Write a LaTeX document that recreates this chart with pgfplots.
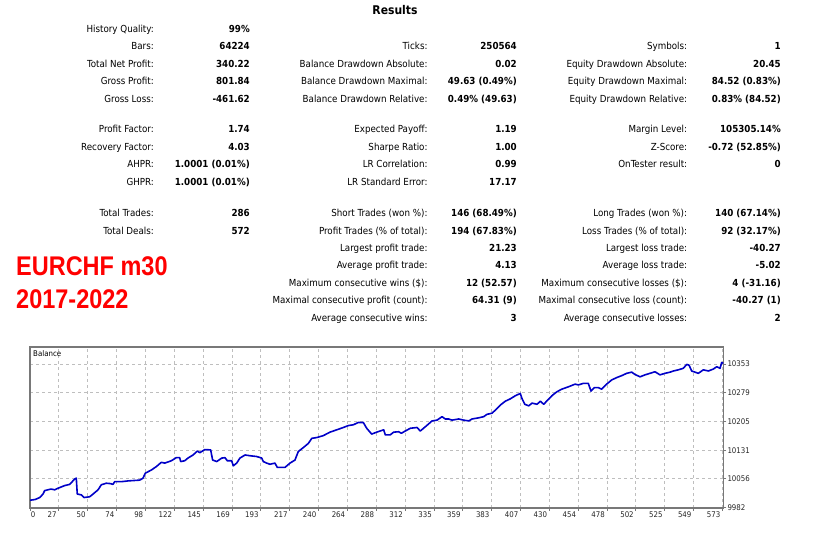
\documentclass[border=0pt]{standalone}
\usepackage{fontspec}
\setmainfont{DejaVu Sans Condensed}
\newfontfamily\redfont[FakeStretch=0.87]{Liberation Sans}
\usepackage{pgfplots}
\pgfplotsset{compat=1.18}
\definecolor{bal}{RGB}{0,0,200}
\definecolor{gridc}{RGB}{190,190,190}
\definecolor{framec}{RGB}{120,120,120}
\newcommand\lbl[3]{\node[anchor=base east,inner sep=0pt,font=\fontsize{9.7}{11}\selectfont] at (#1pt,538pt-#2pt) {#3};}
\newcommand\val[3]{\node[anchor=base east,inner sep=0pt,font=\bfseries\fontsize{9.7}{11}\selectfont] at (#1pt,538pt-#2pt) {#3};}
\newcommand\row[3]{\lbl{154}{#1}{#2}\val{250}{#1}{#3}}
\newcommand\rowb[3]{\lbl{427.7}{#1}{#2}\val{517}{#1}{#3}}
\newcommand\rowc[3]{\lbl{687.3}{#1}{#2}\val{781}{#1}{#3}}
\begin{document}
\begin{tikzpicture}
\path[use as bounding box] (0,0) rectangle (822pt,538pt);
\fill[white] (0,0) rectangle (822pt,538pt);
\node[anchor=base,inner sep=0pt,font=\bfseries\fontsize{12}{14}\selectfont] at (395pt,538pt-15pt) {Results};
\row{32.5}{History Quality:}{99\%}
\row{49.9}{Bars:}{64224}
\rowb{49.9}{Ticks:}{250564}
\rowc{49.9}{Symbols:}{1}
\row{67.3}{Total Net Profit:}{340.22}
\rowb{67.3}{Balance Drawdown Absolute:}{0.02}
\rowc{67.3}{Equity Drawdown Absolute:}{20.45}
\row{84.7}{Gross Profit:}{801.84}
\rowb{84.7}{Balance Drawdown Maximal:}{49.63 (0.49\%)}
\rowc{84.7}{Equity Drawdown Maximal:}{84.52 (0.83\%)}
\row{102.1}{Gross Loss:}{-461.62}
\rowb{102.1}{Balance Drawdown Relative:}{0.49\% (49.63)}
\rowc{102.1}{Equity Drawdown Relative:}{0.83\% (84.52)}
\row{133}{Profit Factor:}{1.74}
\rowb{133}{Expected Payoff:}{1.19}
\rowc{133}{Margin Level:}{105305.14\%}
\row{150.4}{Recovery Factor:}{4.03}
\rowb{150.4}{Sharpe Ratio:}{1.00}
\rowc{150.4}{Z-Score:}{-0.72 (52.85\%)}
\row{167.8}{AHPR:}{1.0001 (0.01\%)}
\rowb{167.8}{LR Correlation:}{0.99}
\rowc{167.8}{OnTester result:}{0}
\row{185.2}{GHPR:}{1.0001 (0.01\%)}
\rowb{185.2}{LR Standard Error:}{17.17}
\row{216.8}{Total Trades:}{286}
\rowb{216.8}{Short Trades (won \%):}{146 (68.49\%)}
\rowc{216.8}{Long Trades (won \%):}{140 (67.14\%)}
\row{234.2}{Total Deals:}{572}
\rowb{234.2}{Profit Trades (\% of total):}{194 (67.83\%)}
\rowc{234.2}{Loss Trades (\% of total):}{92 (32.17\%)}
\rowb{251.6}{Largest profit trade:}{21.23}
\rowc{251.6}{Largest loss trade:}{-40.27}
\rowb{269}{Average profit trade:}{4.13}
\rowc{269}{Average loss trade:}{-5.02}
\rowb{286.4}{Maximum consecutive wins (\$):}{12 (52.57)}
\rowc{286.4}{Maximum consecutive losses (\$):}{4 (-31.16)}
\rowb{303.8}{Maximal consecutive profit (count):}{64.31 (9)}
\rowc{303.8}{Maximal consecutive loss (count):}{-40.27 (1)}
\rowb{321.2}{Average consecutive wins:}{3}
\rowc{321.2}{Average consecutive losses:}{2}
\node[anchor=base west,inner sep=0pt,text=red,font=\redfont\bfseries\fontsize{27}{30}\selectfont] at (16pt,538pt-276pt) {EURCHF m30};
\node[anchor=base west,inner sep=0pt,text=red,font=\redfont\bfseries\fontsize{27}{30}\selectfont] at (16pt,538pt-308.3pt) {2017-2022};
\begin{axis}[
  at={(30pt,30pt)}, anchor=south west, scale only axis,
  width=693.3pt, height=161pt,
  xmin=3.7, xmax=574.3, ymin=9981, ymax=10397,
  scaled y ticks=false, scaled x ticks=false,
  xtick={3.7,27.45,51.19,74.94,98.68,122.43,146.17,169.92,193.66,217.41,241.15,264.9,288.64,312.39,336.13,359.88,383.62,407.37,431.11,454.86,478.6,502.35,526.09,549.84,573.58},
  xticklabels={\makebox[0pt][l]{\hspace{3pt}0},27,50,74,98,122,145,169,193,217,240,264,288,312,335,359,383,407,430,454,478,502,525,549,573},
  ytick={9982,10056.2,10130.4,10204.6,10278.8,10353},
  yticklabels={9982,10056,10131,10205,10279,10353},
  xtick pos=left, ytick pos=right, yticklabel pos=right,
  tick align=outside, major tick length=3pt,
  tick style={framec,line width=0.8pt},
  grid=major,
  major grid style={gridc,dash pattern=on 3pt off 3pt,line width=0.8pt},
  axis line style={framec,line width=1.3pt},
  tick label style={font=\fontsize{7.8}{9}\selectfont,text=black!85,inner sep=1pt},
  xticklabel style={anchor=north east,xshift=-1pt},
  yticklabel style={anchor=west},
  /pgf/number format/assume math mode=true,
]
\addplot[bal,line width=1.6pt,line join=round,no markers] table {
x y
3.7 10001
8 10003
11.7 10008
14.4 10017
15.8 10026
21 10030
24 10028
26.7 10032
32.3 10039
36.4 10042
40.5 10056
41.8 10058
42.6 10017
45.9 10015
48.1 10008
52.8 10010
55.6 10017
59.7 10028
62.4 10041
66.5 10045
70 10044
72 10042
73.4 10049
78.8 10049
84.4 10051
94 10053
96.7 10058
98.6 10071
103.5 10079
107.7 10088
111.8 10099
114.6 10097
120 10103
124.1 10111
126.9 10111
127.7 10101
131 10103
133.7 10110
137.9 10118
141.4 10128
143.5 10124
147.6 10132
152.4 10131
154 10105
157.4 10101
161.5 10110
164.2 10111
166.1 10103
169.7 10103
171 10090
173.8 10097
176.5 10110
180.7 10118
184.8 10116
190.3 10114
194.4 10110
195.7 10101
198.5 10097
201.2 10094
205.3 10097
207.2 10086
213.6 10086
217.7 10097
221.8 10105
224.5 10127
228.6 10137
232.8 10148
235.6 10161
239.7 10163
245.1 10168
250.6 10177
256.1 10183
261.6 10189
265.7 10194
269.8 10196
273.9 10202
278 10202
280.8 10187
284.9 10172
289.1 10177
294.8 10183
296.1 10170
300.2 10170
303 10177
307.2 10178
309.3 10174
312.6 10180
316.7 10187
322.2 10189
324.9 10180
329.1 10191
334.6 10206
338.7 10208
342.8 10217
345.5 10211
348.3 10211
351 10208
356.5 10211
360.7 10208
364.8 10206
367.5 10211
373 10214
377.1 10217
379.8 10223
384 10226
386.7 10234
390.8 10247
394.9 10257
399 10263
403.1 10271
407.2 10277
408.6 10264
410.9 10249
414.2 10245
416.9 10252
421 10249
423.7 10257
426.5 10249
430.4 10262
433.2 10271
437.2 10281
441.3 10288
446.7 10294
452.3 10301
455 10299
459.1 10303
463.2 10303
465.4 10283
468.1 10292
471.4 10292
474.2 10288
478.3 10301
482.5 10312
486.6 10318
490.7 10323
494.8 10329
498.9 10332
501.6 10326
505.8 10320
509.9 10325
514 10329
518.1 10333
522.2 10325
526.3 10329
530.5 10332
533.2 10335
537.3 10338
541.4 10342
544.2 10352
546.1 10350
548.3 10335
553.7 10329
557.9 10338
562 10335
566.1 10340
568.9 10346
571.6 10342
573 10357
574.3 10355
};
\end{axis}
\node[anchor=base west,inner sep=0pt,font=\fontsize{7.8}{9}\selectfont] at (33pt,538pt-357pt) {Balance};
\end{tikzpicture}
\end{document}
